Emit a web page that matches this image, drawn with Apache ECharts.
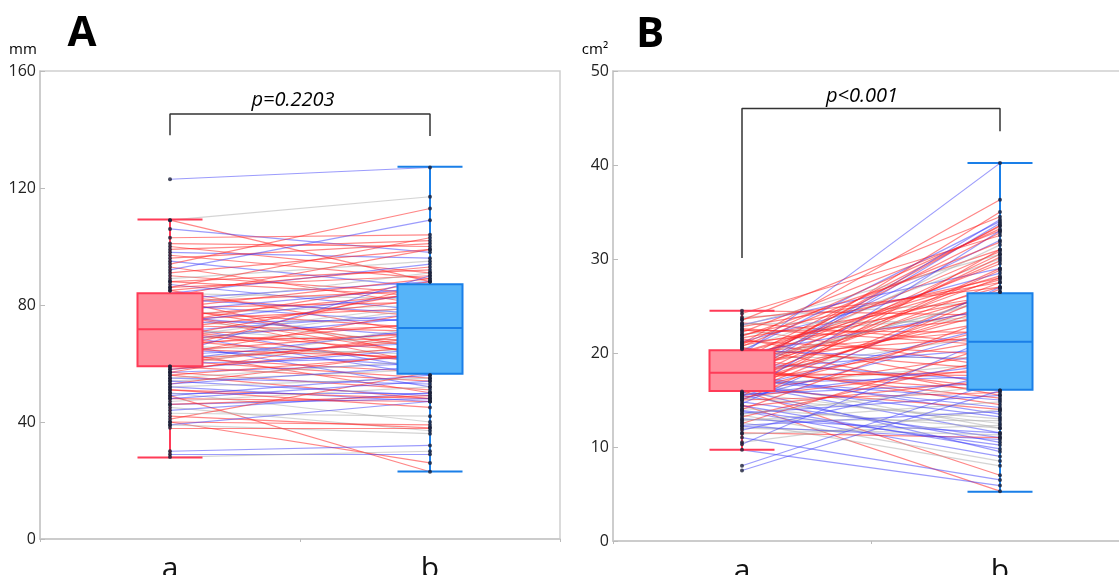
<!DOCTYPE html>
<html>
<head>
<meta charset="utf-8">
<script src="https://cdn.jsdelivr.net/npm/echarts@6.0.0/dist/echarts.min.js"></script>
<style>
html, body { margin: 0; padding: 0; background: #fff; }
#chart { width: 1119px; height: 575px; }
</style>
</head>
<body>
<div id="chart"></div>
<script>
const categories = ['a', 'b']

// panel A, mm: paired values per subject (a -> b) and line colour group
const pairA_a = [
  123, 109, 109, 106, 103, 101, 100, 99, 98, 97,
  96, 95, 94, 93, 92, 91, 90, 89, 88, 87,
  86, 86, 85, 84, 84, 83, 83, 82, 82, 81,
  80, 80, 79, 79, 78, 78, 77, 77, 76, 76,
  75, 75, 74, 74, 73, 73, 72, 72, 71, 71,
  70, 70, 69, 69, 68, 68, 67, 67, 66, 66,
  65, 65, 64, 64, 63, 63, 62, 62, 61, 61,
  60, 60, 59, 59, 58, 57, 57, 56, 56, 55,
  54, 54, 53, 52, 52, 51, 50, 50, 49, 49,
  48, 47, 46, 45, 44, 42, 41, 40, 40, 39,
  39, 38, 30, 29, 28, 88, 85, 82, 79, 77,
  74, 71, 69, 67, 65, 63, 61, 58, 55, 53,
  51, 48, 46, 43, 57
]
const pairA_b = [
  127, 117, 88, 98, 104, 100, 91, 102, 96, 89,
  101, 86, 113, 80, 109, 99, 84, 95, 92, 78,
  103, 90, 70, 94, 82, 99, 76, 88, 62, 85,
  91, 74, 81, 65, 86, 72, 80, 60, 84, 69,
  79, 67, 88, 75, 71, 58, 82, 66, 77, 64,
  73, 56, 80, 68, 76, 61, 70, 52, 74, 63,
  87, 59, 71, 50, 67, 78, 65, 57, 72, 55,
  69, 62, 54, 73, 65, 51, 60, 48, 63, 53,
  58, 49, 64, 47, 55, 48, 50, 40, 23, 56,
  47, 52, 48, 37, 50, 38, 57, 39, 26, 47,
  36, 38, 32, 29, 30, 83, 93, 77, 89, 63,
  84, 60, 85, 79, 62, 90, 68, 66, 61, 59,
  45, 54, 49, 42, 71
]
const groupA = [
  'b', 'g', 'r', 'b', 'r', 'r', 'r', 'r', 'b', 'r',
  'r', 'b', 'r', 'r', 'b', 'r', 'r', 'g', 'r', 'b',
  'r', 'r', 'r', 'b', 'g', 'r', 'r', 'b', 'r', 'r',
  'g', 'b', 'r', 'r', 'b', 'r', 'g', 'r', 'r', 'b',
  'r', 'g', 'r', 'b', 'r', 'b', 'r', 'g', 'b', 'r',
  'r', 'b', 'g', 'r', 'b', 'r', 'r', 'b', 'r', 'g',
  'r', 'b', 'r', 'r', 'b', 'r', 'g', 'r', 'b', 'r',
  'r', 'b', 'r', 'g', 'b', 'r', 'b', 'r', 'r', 'b',
  'g', 'b', 'r', 'b', 'g', 'r', 'b', 'g', 'r', 'b',
  'r', 'g', 'b', 'g', 'b', 'r', 'r', 'r', 'r', 'b',
  'g', 'r', 'b', 'b', 'g', 'r', 'r', 'b', 'r', 'r',
  'b', 'r', 'r', 'g', 'r', 'b', 'r', 'r', 'g', 'b',
  'r', 'b', 'r', 'g', 'r'
]
// [min, Q1, median, Q3, max] for a and b
const boxA = [
  [27.9, 59.1, 71.7, 84.0, 109.2],
  [23.1, 56.5, 72.1, 87.1, 127.3]
]
const bracketA = [138, 145.3, 137.8]

// panel B, cm2
const pairB_a = [
  24.5, 24.2, 23.8, 23.5, 23.2, 23.0, 22.8, 22.5, 22.2, 22.0,
  21.8, 21.5, 21.2, 21.0, 20.8, 20.6, 20.4, 20.2, 20.0, 19.8,
  19.6, 19.5, 19.3, 19.2, 19.0, 18.9, 18.8, 18.6, 18.5, 18.4,
  18.3, 18.2, 18.1, 18.0, 17.9, 17.8, 17.7, 17.6, 17.5, 17.4,
  17.3, 17.2, 17.1, 17.0, 16.9, 16.8, 16.7, 16.6, 16.5, 16.4,
  16.3, 16.2, 16.1, 16.0, 15.9, 15.8, 15.7, 15.6, 15.5, 15.4,
  15.3, 15.2, 15.1, 15.0, 14.8, 14.6, 14.5, 14.3, 14.1, 14.0,
  13.8, 13.6, 13.4, 13.2, 13.0, 12.8, 12.6, 12.5, 12.3, 12.0,
  11.8, 11.5, 11.4, 11.0, 10.5, 10.3, 9.7, 8.0, 7.5, 23.6,
  22.9, 21.6, 20.9, 20.1, 19.9, 19.1, 18.7, 18.0, 17.6, 16.8,
  20.5, 19.4, 18.2, 17.2, 21.3, 22.6, 23.1, 16.4, 15.6, 13.9,
  21.9, 21.1, 20.7, 20.3, 19.7, 19.0, 18.5, 17.8, 17.0, 16.6,
  16.0, 15.5, 15.0, 14.4, 13.5, 12.9, 12.2, 18.9, 20.0, 22.4
]
const pairB_b = [
  24.0, 32.5, 25.5, 34.5, 21.0, 29.0, 27.5, 18.5, 33.0, 24.0,
  31.0, 16.5, 28.5, 36.3, 26.0, 15.5, 30.0, 34.0, 22.5, 40.2,
  27.0, 19.5, 33.5, 25.0, 17.0, 29.5, 32.0, 23.5, 14.5, 31.5,
  26.5, 20.5, 35.0, 16.0, 28.0, 22.0, 13.5, 30.5, 18.0, 33.8,
  24.5, 15.0, 27.5, 12.0, 21.5, 17.5, 29.0, 11.5, 25.5, 19.0,
  14.0, 23.0, 9.5, 7.0, 20.0, 12.5, 26.8, 16.8, 10.5, 31.0,
  18.5, 13.0, 22.5, 15.8, 11.0, 27.0, 5.3, 17.2, 12.0, 24.0,
  9.0, 15.5, 8.5, 19.5, 11.5, 14.8, 8.0, 21.0, 13.8, 11.3,
  17.8, 11.0, 12.3, 6.5, 14.0, 22.0, 5.9, 17.0, 16.0, 27.0,
  30.5, 26.2, 33.2, 28.2, 24.8, 30.8, 26.0, 29.8, 34.2, 25.0,
  18.2, 16.2, 15.2, 14.2, 19.8, 20.8, 23.5, 28.8, 33.0, 10.2,
  28.0, 23.8, 31.8, 19.2, 21.8, 25.8, 33.6, 17.6, 30.2, 13.2,
  22.8, 18.8, 26.5, 9.8, 16.6, 12.8, 10.8, 32.8, 27.8, 22.2
]
const groupB = [
  'r', 'r', 'g', 'r', 'r', 'b', 'r', 'r', 'r', 'g',
  'r', 'r', 'b', 'r', 'r', 'r', 'g', 'b', 'r', 'b',
  'r', 'g', 'r', 'r', 'b', 'r', 'b', 'r', 'r', 'g',
  'r', 'b', 'r', 'r', 'r', 'g', 'b', 'r', 'r', 'b',
  'r', 'b', 'r', 'g', 'r', 'b', 'r', 'b', 'r', 'g',
  'r', 'b', 'b', 'r', 'r', 'g', 'r', 'b', 'b', 'r',
  'r', 'g', 'b', 'r', 'b', 'b', 'r', 'r', 'g', 'r',
  'b', 'b', 'g', 'r', 'b', 'g', 'g', 'r', 'b', 'g',
  'b', 'r', 'g', 'b', 'g', 'b', 'b', 'b', 'b', 'r',
  'g', 'r', 'r', 'r', 'b', 'r', 'g', 'r', 'b', 'r',
  'r', 'r', 'r', 'b', 'r', 'r', 'g', 'r', 'b', 'b',
  'r', 'r', 'r', 'b', 'r', 'g', 'r', 'r', 'r', 'b',
  'r', 'b', 'r', 'b', 'g', 'g', 'b', 'r', 'r', 'r'
]
const boxB = [
  [9.7, 15.96, 17.9, 20.3, 24.5],
  [5.25, 16.1, 21.2, 26.35, 40.2]
]
const bracketB = [30.1, 46.0, 43.6]

const lineColors = {
  r: 'rgba(255, 35, 35, 0.55)',
  b: 'rgba(55, 55, 250, 0.5)',
  g: 'rgba(170, 170, 170, 0.5)'
}
const boxStyles = [
  { color: '#ff8f9d', borderColor: '#ff3b57', borderWidth: 2 },
  { color: '#56b4f9', borderColor: '#1a7fe8', borderWidth: 2 }
]
const font = '"Open Sans", sans-serif'

const chart = echarts.init(document.getElementById('chart'))

const buildPanel = (idx, va, vb, groups, box, bracket) => {
  const pairLines = va.map((v, i) => ({
    coords: [[0, v], [1, vb[i]]],
    lineStyle: { color: lineColors[groups[i]] }
  }))
  // dots inside the box are hidden by it, so only keep the ones outside
  const dots = []
  va.forEach(v => { if (v < box[0][1] || v > box[0][3]) dots.push([0, v]) })
  vb.forEach(v => { if (v < box[1][1] || v > box[1][3]) dots.push([1, v]) })

  return [
    {
      type: 'lines',
      coordinateSystem: 'cartesian2d',
      xAxisIndex: idx,
      yAxisIndex: idx,
      z: 1,
      silent: true,
      lineStyle: { width: 1.2, opacity: 1 },
      data: pairLines
    },
    {
      type: 'boxplot',
      xAxisIndex: idx,
      yAxisIndex: idx,
      z: 3,
      boxWidth: [65, 65],
      data: box.map((b, i) => ({ value: b, itemStyle: boxStyles[i] }))
    },
    {
      type: 'scatter',
      xAxisIndex: idx,
      yAxisIndex: idx,
      z: 4,
      symbolSize: 4,
      itemStyle: { color: '#1c2038' },
      data: dots
    },
    {
      type: 'line',
      xAxisIndex: idx,
      yAxisIndex: idx,
      z: 5,
      symbol: 'none',
      lineStyle: { color: '#333', width: 1.5 },
      data: [
        [categories[0], bracket[0]],
        [categories[0], bracket[1]],
        [categories[1], bracket[1]],
        [categories[1], bracket[2]]
      ]
    }
  ]
}

const xAxisCommon = {
  type: 'category',
  data: categories,
  axisLine: { lineStyle: { color: '#c8c8c8', width: 1.5 } },
  axisTick: { show: true, length: 3, lineStyle: { color: '#bbb' } },
  axisLabel: { fontSize: 30, color: '#111', margin: 15, fontFamily: font }
}
const yAxisCommon = {
  type: 'value',
  min: 0,
  splitLine: { show: false },
  axisLine: { show: true, lineStyle: { color: '#c8c8c8', width: 1.5 } },
  axisTick: { show: true, inside: true, length: 5, lineStyle: { color: '#bbb' } },
  axisLabel: { fontSize: 16, color: '#222', margin: 4, fontFamily: font }
}

const textEl = (x, y, text, f) => ({
  type: 'text',
  x: x,
  y: y,
  style: {
    text: text,
    font: f,
    fill: '#000',
    align: 'center',
    verticalAlign: 'middle',
    textAlign: 'center',
    textVerticalAlign: 'middle'
  }
})

const gridCommon = {
  show: true,
  borderColor: '#cfcfcf',
  borderWidth: 1.5,
  containLabel: false,
  outerBoundsMode: 'none'
}

const option = {
  animation: false,
  backgroundColor: '#fff',
  grid: [
    Object.assign({ left: 40, top: 71, width: 520, height: 468 }, gridCommon),
    Object.assign({ left: 613, top: 71, width: 516, height: 470 }, gridCommon)
  ],
  xAxis: [
    Object.assign({ gridIndex: 0 }, xAxisCommon),
    Object.assign({ gridIndex: 1 }, xAxisCommon)
  ],
  yAxis: [
    Object.assign({ gridIndex: 0, max: 160, interval: 40 }, yAxisCommon),
    Object.assign({ gridIndex: 1, max: 50, interval: 10 }, yAxisCommon)
  ],
  graphic: [
    textEl(82, 34, 'A', 'bold 42px ' + font),
    textEl(650, 35, 'B', 'bold 42px ' + font),
    textEl(23, 50, 'mm', '15px ' + font),
    textEl(595, 50, 'cm²', '15px ' + font),
    textEl(293, 100, 'p=0.2203', 'italic 20px ' + font),
    textEl(862, 96, 'p<0.001', 'italic 20px ' + font)
  ],
  series: [
    ...buildPanel(0, pairA_a, pairA_b, groupA, boxA, bracketA),
    ...buildPanel(1, pairB_a, pairB_b, groupB, boxB, bracketB)
  ]
}

chart.setOption(option)
window.addEventListener('resize', () => chart.resize())
</script>
</body>
</html>
